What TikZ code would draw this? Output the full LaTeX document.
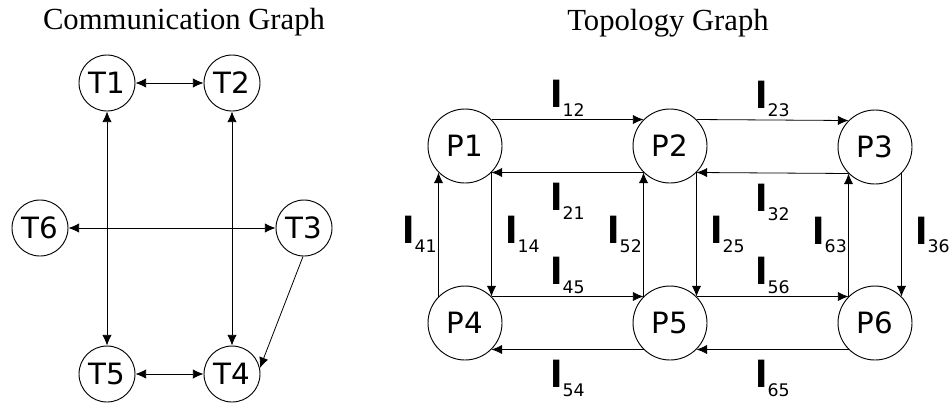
\documentclass[tikz,border=0pt]{standalone}
\usepackage{fontspec}
\setmainfont{Liberation Serif}
\newfontfamily\nodefont{DejaVu Sans}
\usetikzlibrary{arrows.meta,positioning}

% link label: big l with a lowered index
\newcommand{\lnk}[1]{{\fontsize{27}{27}\selectfont\bfseries l}\raisebox{-6.5pt}{\fontsize{13}{13}\selectfont #1}}

\begin{document}
\begin{tikzpicture}[x=0.75pt, y=-0.75pt,
                task/.style={circle, draw, line width=0.7pt, minimum size=42pt, inner sep=0pt, font=\nodefont\fontsize{22}{22}\selectfont},
                proc/.style={circle, draw, line width=0.7pt, minimum size=55.5pt, inner sep=0pt, font=\nodefont\fontsize{22}{22}\selectfont},
                link/.style={draw, line width=0.6pt, -{Latex[length=8pt,width=7pt]}},
                dlink/.style={draw, line width=0.6pt, {Latex[length=8pt,width=7pt]}-{Latex[length=8pt,width=7pt]}},
                lab/.style={inner sep=1pt, font=\nodefont},
                title/.style={font=\fontsize{23}{23}\selectfont, inner sep=0pt, anchor=base}
            ]
            \useasboundingbox (0,0) rectangle (952,408);

            % communication graph
            \node (ctitle) [title] at (184,29) {Communication Graph};
            \node (T1) [task] at (107,83) {T1};
            \node (T2) [task] at (232,83) {T2};
            \node (T6) [task] at (40,228) {T6};
            \node (T3) [task] at (304,228) {T3};
            \node (T5) [task] at (107,374) {T5};
            \node (T4) [task] at (232,374) {T4};

            \draw[dlink] (T1) -- (T2);
            \draw[dlink] (T1) -- (T5);
            \draw[dlink] (T2) -- (T4);
            \draw[dlink] (T6) -- (T3);
            \draw[dlink] (T5) -- (T4);
            \draw[link] (T3.268) -- (T4.12);

            % topology graph
            \node (ttitle) [title] at (668,30) {Topology Graph};
            \node (P1) [proc] at (465,146) {P1};
            \node (P2) [proc] at (670,146) {P2};
            \node (P3) [proc] at (875,147) {P3};
            \node (P4) [proc] at (465,323) {P4};
            \node (P5) [proc] at (670,323) {P5};
            \node (P6) [proc] at (875,323) {P6};

            \draw[link] (P1.45) -- node[lab, above=1pt] {\lnk{12}} (P2.135);
            \draw[link] (P2.225) -- node[lab, below=7pt] {\lnk{21}} (P1.315);
            \draw[link] (P2.45) -- node[lab, above=1pt] {\lnk{23}} (P3.135);
            \draw[link] (P3.225) -- node[lab, below=7pt] {\lnk{32}} (P2.315);
            \draw[link] (P4.45) -- node[lab, above=1pt] {\lnk{45}} (P5.135);
            \draw[link] (P5.225) -- node[lab, below=7pt] {\lnk{54}} (P4.315);
            \draw[link] (P5.45) -- node[lab, above=1pt] {\lnk{56}} (P6.135);
            \draw[link] (P6.225) -- node[lab, below=7pt] {\lnk{65}} (P5.315);

            \draw[link] (P4.135) -- node[lab, left=0pt] {\lnk{41}} (P1.225);
            \draw[link] (P1.315) -- node[lab, right=9pt] {\lnk{14}} (P4.45);
            \draw[link] (P5.135) -- node[lab, left=0pt] {\lnk{52}} (P2.225);
            \draw[link] (P2.315) -- node[lab, right=9pt] {\lnk{25}} (P5.45);
            \draw[link] (P6.135) -- node[lab, left=0pt] {\lnk{63}} (P3.225);
            \draw[link] (P3.315) -- node[lab, right=9pt] {\lnk{36}} (P6.45);
        \end{tikzpicture}
\end{document}
